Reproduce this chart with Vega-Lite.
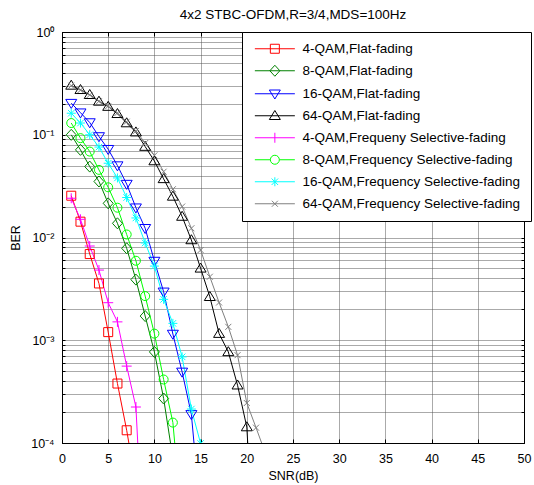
{
  "$schema": "https://vega.github.io/schema/vega-lite/v6.json",
  "autosize": "none",
  "width": 462,
  "height": 411,
  "padding": {"left": 62, "top": 32, "right": 10, "bottom": 42},
  "background": "white",
  "title": {"text": "4x2 STBC-OFDM,R=3/4,MDS=100Hz", "fontSize": 13.5, "font": "Liberation Sans", "fontWeight": "normal", "color": "black", "anchor": "middle", "offset": 5},
  "config": {
    "view": {"stroke": "black", "strokeWidth": 1},
    "point": {"filled": false, "strokeWidth": 1, "size": 100, "opacity": 1},
    "axis": {"labelFont": "Liberation Sans", "titleFont": "Liberation Sans", "labelFontSize": 12.5, "titleFontSize": 12.5, "titleFontWeight": "normal", "labelColor": "black", "titleColor": "black", "domainColor": "black", "tickColor": "black", "gridColor": "#555555", "gridDash": [1, 1], "gridOpacity": 1, "labelOverlap": false, "labelFlush": false}
  },
  "data": {"values": [
    {"series": "4-QAM,Flat-fading", "snr": 1, "ber": 0.0255},
    {"series": "4-QAM,Flat-fading", "snr": 2, "ber": 0.01426},
    {"series": "4-QAM,Flat-fading", "snr": 3, "ber": 0.0069},
    {"series": "4-QAM,Flat-fading", "snr": 4, "ber": 0.00357},
    {"series": "4-QAM,Flat-fading", "snr": 5, "ber": 0.0012},
    {"series": "4-QAM,Flat-fading", "snr": 6, "ber": 0.000379},
    {"series": "4-QAM,Flat-fading", "snr": 7, "ber": 0.000133},
    {"series": "4-QAM,Flat-fading", "snr": 8, "ber": 0.00004},
    {"series": "8-QAM,Flat-fading", "snr": 1, "ber": 0.0998},
    {"series": "8-QAM,Flat-fading", "snr": 2, "ber": 0.0713},
    {"series": "8-QAM,Flat-fading", "snr": 3, "ber": 0.049},
    {"series": "8-QAM,Flat-fading", "snr": 4, "ber": 0.0351},
    {"series": "8-QAM,Flat-fading", "snr": 5, "ber": 0.0215},
    {"series": "8-QAM,Flat-fading", "snr": 6, "ber": 0.01374},
    {"series": "8-QAM,Flat-fading", "snr": 7, "ber": 0.00785},
    {"series": "8-QAM,Flat-fading", "snr": 8, "ber": 0.00389},
    {"series": "8-QAM,Flat-fading", "snr": 9, "ber": 0.00172},
    {"series": "8-QAM,Flat-fading", "snr": 10, "ber": 0.00077},
    {"series": "8-QAM,Flat-fading", "snr": 11, "ber": 0.000271},
    {"series": "8-QAM,Flat-fading", "snr": 12, "ber": 0.0000708},
    {"series": "16-QAM,Flat-fading", "snr": 1, "ber": 0.203},
    {"series": "16-QAM,Flat-fading", "snr": 2, "ber": 0.164},
    {"series": "16-QAM,Flat-fading", "snr": 3, "ber": 0.1315},
    {"series": "16-QAM,Flat-fading", "snr": 4, "ber": 0.0962},
    {"series": "16-QAM,Flat-fading", "snr": 5, "ber": 0.0723},
    {"series": "16-QAM,Flat-fading", "snr": 6, "ber": 0.0501},
    {"series": "16-QAM,Flat-fading", "snr": 7, "ber": 0.0331},
    {"series": "16-QAM,Flat-fading", "snr": 8, "ber": 0.0195},
    {"series": "16-QAM,Flat-fading", "snr": 9, "ber": 0.0123},
    {"series": "16-QAM,Flat-fading", "snr": 10, "ber": 0.0059},
    {"series": "16-QAM,Flat-fading", "snr": 11, "ber": 0.00296},
    {"series": "16-QAM,Flat-fading", "snr": 12, "ber": 0.00115},
    {"series": "16-QAM,Flat-fading", "snr": 13, "ber": 0.000492},
    {"series": "16-QAM,Flat-fading", "snr": 14, "ber": 0.00019},
    {"series": "16-QAM,Flat-fading", "snr": 15, "ber": 0.00002},
    {"series": "64-QAM,Flat-fading", "snr": 1, "ber": 0.302},
    {"series": "64-QAM,Flat-fading", "snr": 2, "ber": 0.274},
    {"series": "64-QAM,Flat-fading", "snr": 3, "ber": 0.245},
    {"series": "64-QAM,Flat-fading", "snr": 4, "ber": 0.211},
    {"series": "64-QAM,Flat-fading", "snr": 5, "ber": 0.188},
    {"series": "64-QAM,Flat-fading", "snr": 6, "ber": 0.16},
    {"series": "64-QAM,Flat-fading", "snr": 7, "ber": 0.13},
    {"series": "64-QAM,Flat-fading", "snr": 8, "ber": 0.106},
    {"series": "64-QAM,Flat-fading", "snr": 9, "ber": 0.0767},
    {"series": "64-QAM,Flat-fading", "snr": 10, "ber": 0.0555},
    {"series": "64-QAM,Flat-fading", "snr": 11, "ber": 0.0372},
    {"series": "64-QAM,Flat-fading", "snr": 12, "ber": 0.0251},
    {"series": "64-QAM,Flat-fading", "snr": 13, "ber": 0.016},
    {"series": "64-QAM,Flat-fading", "snr": 14, "ber": 0.00946},
    {"series": "64-QAM,Flat-fading", "snr": 15, "ber": 0.00501},
    {"series": "64-QAM,Flat-fading", "snr": 16, "ber": 0.00265},
    {"series": "64-QAM,Flat-fading", "snr": 17, "ber": 0.00116},
    {"series": "64-QAM,Flat-fading", "snr": 18, "ber": 0.00077},
    {"series": "64-QAM,Flat-fading", "snr": 19, "ber": 0.000365},
    {"series": "64-QAM,Flat-fading", "snr": 20, "ber": 0.000143},
    {"series": "64-QAM,Flat-fading", "snr": 21, "ber": 0.000004},
    {"series": "4-QAM,Frequeny Selective-fading", "snr": 1, "ber": 0.0241},
    {"series": "4-QAM,Frequeny Selective-fading", "snr": 2, "ber": 0.01503},
    {"series": "4-QAM,Frequeny Selective-fading", "snr": 3, "ber": 0.00826},
    {"series": "4-QAM,Frequeny Selective-fading", "snr": 4, "ber": 0.00482},
    {"series": "4-QAM,Frequeny Selective-fading", "snr": 5, "ber": 0.00232},
    {"series": "4-QAM,Frequeny Selective-fading", "snr": 6, "ber": 0.00151},
    {"series": "4-QAM,Frequeny Selective-fading", "snr": 7, "ber": 0.00056},
    {"series": "4-QAM,Frequeny Selective-fading", "snr": 8, "ber": 0.000224},
    {"series": "4-QAM,Frequeny Selective-fading", "snr": 9, "ber": 0.000004},
    {"series": "8-QAM,Frequency Selective-fading", "snr": 1, "ber": 0.13},
    {"series": "8-QAM,Frequency Selective-fading", "snr": 2, "ber": 0.0927},
    {"series": "8-QAM,Frequency Selective-fading", "snr": 3, "ber": 0.0686},
    {"series": "8-QAM,Frequency Selective-fading", "snr": 4, "ber": 0.0455},
    {"series": "8-QAM,Frequency Selective-fading", "snr": 5, "ber": 0.0308},
    {"series": "8-QAM,Frequency Selective-fading", "snr": 6, "ber": 0.0195},
    {"series": "8-QAM,Frequency Selective-fading", "snr": 7, "ber": 0.0107},
    {"series": "8-QAM,Frequency Selective-fading", "snr": 8, "ber": 0.00594},
    {"series": "8-QAM,Frequency Selective-fading", "snr": 9, "ber": 0.00269},
    {"series": "8-QAM,Frequency Selective-fading", "snr": 10, "ber": 0.00116},
    {"series": "8-QAM,Frequency Selective-fading", "snr": 11, "ber": 0.000415},
    {"series": "8-QAM,Frequency Selective-fading", "snr": 12, "ber": 0.000158},
    {"series": "8-QAM,Frequency Selective-fading", "snr": 13, "ber": 0.000016},
    {"series": "16-QAM,Frequency Selective-fading", "snr": 1, "ber": 0.162},
    {"series": "16-QAM,Frequency Selective-fading", "snr": 2, "ber": 0.13},
    {"series": "16-QAM,Frequency Selective-fading", "snr": 3, "ber": 0.1},
    {"series": "16-QAM,Frequency Selective-fading", "snr": 4, "ber": 0.0759},
    {"series": "16-QAM,Frequency Selective-fading", "snr": 5, "ber": 0.0528},
    {"series": "16-QAM,Frequency Selective-fading", "snr": 6, "ber": 0.038},
    {"series": "16-QAM,Frequency Selective-fading", "snr": 7, "ber": 0.0245},
    {"series": "16-QAM,Frequency Selective-fading", "snr": 8, "ber": 0.0155},
    {"series": "16-QAM,Frequency Selective-fading", "snr": 9, "ber": 0.00885},
    {"series": "16-QAM,Frequency Selective-fading", "snr": 10, "ber": 0.00527},
    {"series": "16-QAM,Frequency Selective-fading", "snr": 11, "ber": 0.0025},
    {"series": "16-QAM,Frequency Selective-fading", "snr": 12, "ber": 0.00146},
    {"series": "16-QAM,Frequency Selective-fading", "snr": 13, "ber": 0.000689},
    {"series": "16-QAM,Frequency Selective-fading", "snr": 14, "ber": 0.000214},
    {"series": "16-QAM,Frequency Selective-fading", "snr": 15, "ber": 0.000099},
    {"series": "64-QAM,Frequency Selective-fading", "snr": 1, "ber": 0.3},
    {"series": "64-QAM,Frequency Selective-fading", "snr": 2, "ber": 0.272},
    {"series": "64-QAM,Frequency Selective-fading", "snr": 3, "ber": 0.244},
    {"series": "64-QAM,Frequency Selective-fading", "snr": 4, "ber": 0.212},
    {"series": "64-QAM,Frequency Selective-fading", "snr": 5, "ber": 0.19},
    {"series": "64-QAM,Frequency Selective-fading", "snr": 6, "ber": 0.163},
    {"series": "64-QAM,Frequency Selective-fading", "snr": 7, "ber": 0.134},
    {"series": "64-QAM,Frequency Selective-fading", "snr": 8, "ber": 0.109},
    {"series": "64-QAM,Frequency Selective-fading", "snr": 9, "ber": 0.083},
    {"series": "64-QAM,Frequency Selective-fading", "snr": 10, "ber": 0.063},
    {"series": "64-QAM,Frequency Selective-fading", "snr": 11, "ber": 0.0437},
    {"series": "64-QAM,Frequency Selective-fading", "snr": 12, "ber": 0.0295},
    {"series": "64-QAM,Frequency Selective-fading", "snr": 13, "ber": 0.02},
    {"series": "64-QAM,Frequency Selective-fading", "snr": 14, "ber": 0.0123},
    {"series": "64-QAM,Frequency Selective-fading", "snr": 15, "ber": 0.00755},
    {"series": "64-QAM,Frequency Selective-fading", "snr": 16, "ber": 0.00415},
    {"series": "64-QAM,Frequency Selective-fading", "snr": 17, "ber": 0.00233},
    {"series": "64-QAM,Frequency Selective-fading", "snr": 18, "ber": 0.00135},
    {"series": "64-QAM,Frequency Selective-fading", "snr": 19, "ber": 0.000716},
    {"series": "64-QAM,Frequency Selective-fading", "snr": 20, "ber": 0.000245},
    {"series": "64-QAM,Frequency Selective-fading", "snr": 21, "ber": 0.000141},
    {"series": "64-QAM,Frequency Selective-fading", "snr": 22, "ber": 0.00008}
  ]},
  "resolve": {"axis": {"x": "independent", "y": "independent"}},
  "layer": [
    {
      "mark": {"type": "line", "clip": true, "strokeWidth": 1},
      "encoding": {
        "x": {"field": "snr", "type": "quantitative", "scale": {"domain": [0, 50], "nice": false, "zero": false},
          "axis": {"orient": "bottom", "title": "SNR(dB)", "values": [0, 5, 10, 15, 20, 25, 30, 35, 40, 45, 50], "grid": true, "tickSize": -4, "labelPadding": 13, "titlePadding": 5}},
        "y": {"field": "ber", "type": "quantitative", "scale": {"type": "log", "domain": [0.0001, 1], "nice": false},
          "axis": {"orient": "left", "title": "BER", "grid": true, "tickSize": -3, "labelPadding": 11, "titlePadding": 8,
            "values": [0.0001, 0.0002, 0.0003, 0.0004, 0.0005, 0.0006, 0.0007, 0.0008, 0.0009, 0.001, 0.002, 0.003, 0.004, 0.005, 0.006, 0.007, 0.008, 0.009, 0.01, 0.02, 0.03, 0.04, 0.05, 0.06, 0.07, 0.08, 0.09, 0.1, 0.2, 0.3, 0.4, 0.5, 0.6, 0.7, 0.8, 0.9, 1],
            "labelExpr": "indexof([1, 0.1, 0.01, 0.001, 0.0001], datum.value) >= 0 ? ['10⁰', '10⁻¹', '10⁻²', '10⁻³', '10⁻⁴'][indexof([1, 0.1, 0.01, 0.001, 0.0001], datum.value)] : ''"}},
        "color": {"field": "series", "type": "nominal",
          "scale": {"domain": ["4-QAM,Flat-fading", "8-QAM,Flat-fading", "16-QAM,Flat-fading", "64-QAM,Flat-fading", "4-QAM,Frequeny Selective-fading", "8-QAM,Frequency Selective-fading", "16-QAM,Frequency Selective-fading", "64-QAM,Frequency Selective-fading"],
            "range": ["#ff0000", "#008000", "#0000ff", "#000000", "#ff00ff", "#00ff00", "#00ffff", "#808080"]},
          "legend": {"orient": "none", "legendX": 180, "legendY": 0, "title": null, "padding": 10, "rowPadding": 7.0, "labelFont": "Liberation Sans", "labelFontSize": 13.5, "labelColor": "black", "labelOffset": 37, "labelLimit": 0, "symbolSize": 100, "symbolStrokeWidth": 1, "strokeColor": "black", "fillColor": "white",
            "encode": {"symbols": {"update": {"fill": {"value": "transparent"}, "size": {"value": 100}, "strokeWidth": {"value": 1},
              "shape": {"signal": "['M-0.78,0L7.22,0M2.32,-0.9L4.12,-0.9L4.12,0.9L2.32,0.9Z', 'M-0.78,0L7.22,0M2.22,0L3.22,-1.1L4.22,0L3.22,1.1Z', 'M-0.78,0L7.22,0M2.12,-0.75L4.32,-0.75L3.22,1.05Z', 'M-0.78,0L7.22,0M2.12,0.75L4.32,0.75L3.22,-1.05Z', 'M-0.78,0L7.22,0M3.22,-1L3.22,1', 'M-0.78,0L2.32,0M4.12,0L7.22,0M2.32,0A0.9,0.9,0,1,0,4.12,0A0.9,0.9,0,1,0,2.32,0Z', 'M-0.78,0L7.22,0M3.22,-0.9L3.22,0.9M2.57,-0.65L3.87,0.65M2.57,0.65L3.87,-0.65', 'M-0.78,0L7.22,0M2.62,-0.6L3.82,0.6M2.62,0.6L3.82,-0.6'][indexof(['4-QAM,Flat-fading', '8-QAM,Flat-fading', '16-QAM,Flat-fading', '64-QAM,Flat-fading', '4-QAM,Frequeny Selective-fading', '8-QAM,Frequency Selective-fading', '16-QAM,Frequency Selective-fading', '64-QAM,Frequency Selective-fading'], datum.value)]"}}}}}
        }
      }
    },
    {
      "transform": [{"filter": {"field": "series", "equal": "4-QAM,Flat-fading"}}],
      "mark": {"type": "point", "clip": true, "shape": "M-0.9,-0.9L0.9,-0.9L0.9,0.9L-0.9,0.9Z"},
      "encoding": {
        "x": {"field": "snr", "type": "quantitative",
          "axis": {"orient": "top", "title": null, "labels": false, "grid": false, "tickSize": -4, "values": [0, 5, 10, 15, 20, 25, 30, 35, 40, 45, 50]}},
        "y": {"field": "ber", "type": "quantitative",
          "axis": {"orient": "right", "title": null, "labels": false, "grid": false, "tickSize": -3,
            "values": [0.0001, 0.0002, 0.0003, 0.0004, 0.0005, 0.0006, 0.0007, 0.0008, 0.0009, 0.001, 0.002, 0.003, 0.004, 0.005, 0.006, 0.007, 0.008, 0.009, 0.01, 0.02, 0.03, 0.04, 0.05, 0.06, 0.07, 0.08, 0.09, 0.1, 0.2, 0.3, 0.4, 0.5, 0.6, 0.7, 0.8, 0.9, 1]}},
        "color": {"field": "series", "type": "nominal", "legend": null}
      }
    },
    {
      "transform": [{"filter": {"field": "series", "equal": "8-QAM,Flat-fading"}}],
      "mark": {"type": "point", "clip": true, "shape": "M-1,0L0,-1.1L1,0L0,1.1Z"},
      "encoding": {
        "x": {"field": "snr", "type": "quantitative", "axis": null},
        "y": {"field": "ber", "type": "quantitative", "axis": null},
        "color": {"field": "series", "type": "nominal", "legend": null}
      }
    },
    {
      "transform": [{"filter": {"field": "series", "equal": "16-QAM,Flat-fading"}}],
      "mark": {"type": "point", "clip": true, "shape": "M-1.1,-0.75L1.1,-0.75L0,1.05Z"},
      "encoding": {
        "x": {"field": "snr", "type": "quantitative", "axis": null},
        "y": {"field": "ber", "type": "quantitative", "axis": null},
        "color": {"field": "series", "type": "nominal", "legend": null}
      }
    },
    {
      "transform": [{"filter": {"field": "series", "equal": "64-QAM,Flat-fading"}}],
      "mark": {"type": "point", "clip": true, "shape": "M-1.1,0.75L1.1,0.75L0,-1.05Z"},
      "encoding": {
        "x": {"field": "snr", "type": "quantitative", "axis": null},
        "y": {"field": "ber", "type": "quantitative", "axis": null},
        "color": {"field": "series", "type": "nominal", "legend": null}
      }
    },
    {
      "transform": [{"filter": {"field": "series", "equal": "4-QAM,Frequeny Selective-fading"}}],
      "mark": {"type": "point", "clip": true, "shape": "M-1,0L1,0M0,-1L0,1"},
      "encoding": {
        "x": {"field": "snr", "type": "quantitative", "axis": null},
        "y": {"field": "ber", "type": "quantitative", "axis": null},
        "color": {"field": "series", "type": "nominal", "legend": null}
      }
    },
    {
      "transform": [{"filter": {"field": "series", "equal": "8-QAM,Frequency Selective-fading"}}],
      "mark": {"type": "point", "clip": true, "shape": "M-0.9,0A0.9,0.9,0,1,0,0.9,0A0.9,0.9,0,1,0,-0.9,0Z"},
      "encoding": {
        "x": {"field": "snr", "type": "quantitative", "axis": null},
        "y": {"field": "ber", "type": "quantitative", "axis": null},
        "color": {"field": "series", "type": "nominal", "legend": null}
      }
    },
    {
      "transform": [{"filter": {"field": "series", "equal": "16-QAM,Frequency Selective-fading"}}],
      "mark": {"type": "point", "clip": true, "shape": "M-0.9,0L0.9,0M0,-0.9L0,0.9M-0.65,-0.65L0.65,0.65M-0.65,0.65L0.65,-0.65"},
      "encoding": {
        "x": {"field": "snr", "type": "quantitative", "axis": null},
        "y": {"field": "ber", "type": "quantitative", "axis": null},
        "color": {"field": "series", "type": "nominal", "legend": null}
      }
    },
    {
      "transform": [{"filter": {"field": "series", "equal": "64-QAM,Frequency Selective-fading"}}],
      "mark": {"type": "point", "clip": true, "shape": "M-0.6,-0.6L0.6,0.6M-0.6,0.6L0.6,-0.6"},
      "encoding": {
        "x": {"field": "snr", "type": "quantitative", "axis": null},
        "y": {"field": "ber", "type": "quantitative", "axis": null},
        "color": {"field": "series", "type": "nominal", "legend": null}
      }
    }
  ]
}
